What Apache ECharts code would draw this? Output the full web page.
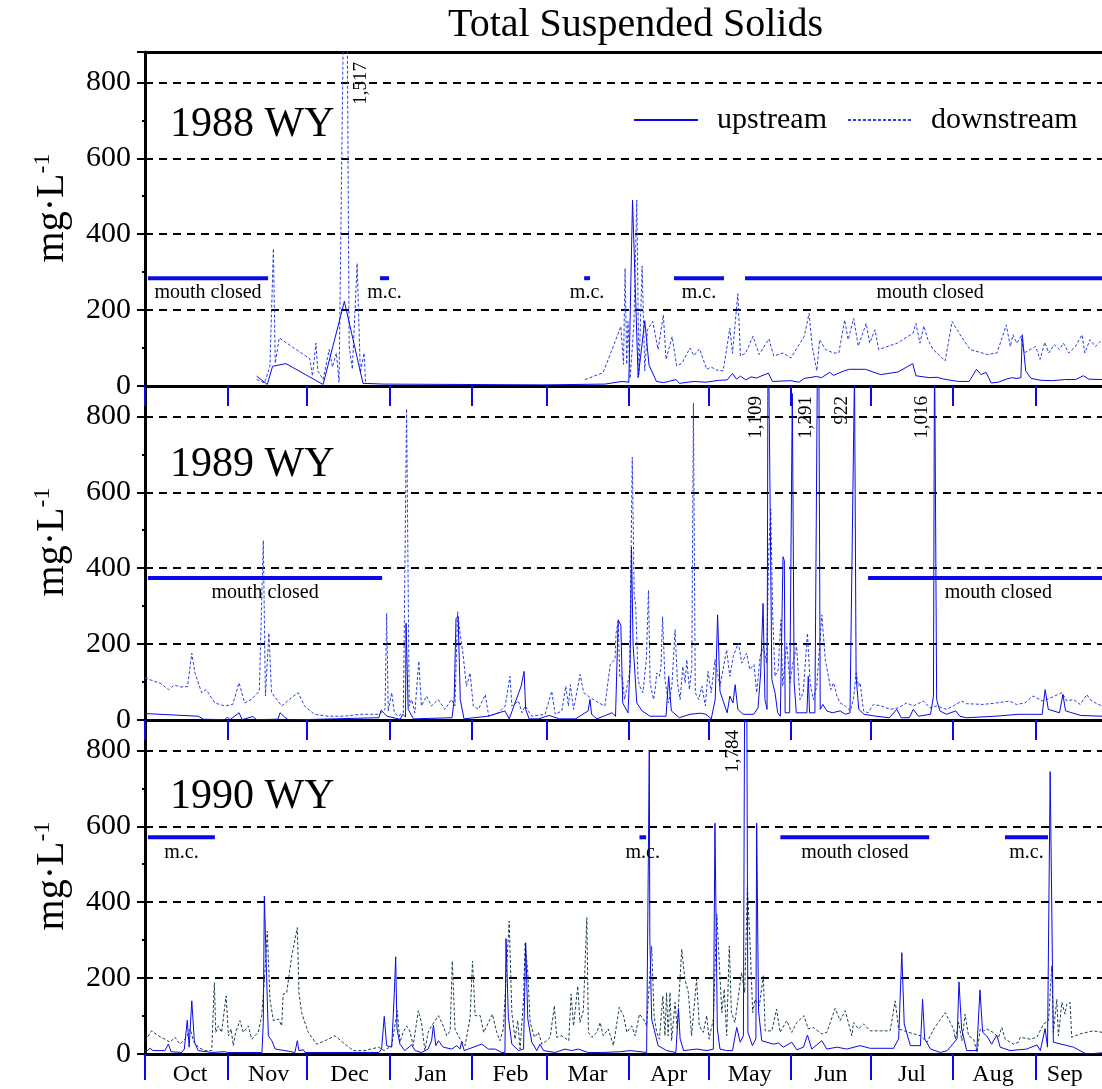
<!DOCTYPE html>
<html>
<head>
<meta charset="utf-8">
<script src="https://cdn.jsdelivr.net/npm/echarts@6/dist/echarts.min.js"></script>
<style>
  html, body { margin: 0; padding: 0; background: #fff; }
  #chart { width: 1102px; height: 1089px; }
</style>
</head>
<body>
<div id="chart"></div>
<script>
// Water-year day axis: day 0 = 1 October
const monthNames = ['Oct', 'Nov', 'Dec', 'Jan', 'Feb', 'Mar', 'Apr', 'May', 'Jun', 'Jul', 'Aug', 'Sep'];
const monthStartDays = [0, 31, 61, 92, 123, 151, 182, 212, 243, 273, 304, 335];
const monthLabelDays = [17, 46.5, 77, 107.5, 137.5, 166.5, 197, 227.5, 258, 288.5, 319, 346];
const yTicks = [0, 200, 400, 600, 800];
const panelNames = ['1988 WY', '1989 WY', '1990 WY'];

// Total suspended solids, mg/L, [day, value]
const up88 = [[42,26],[46,4],[48,52],[53,59],[67,4],[75,223],[82,7],[90,5],[120,4],[150,3],[173,5],[179.5,12],[182,10],[183.4,490],[185.5,22],[188,172],[189.6,55],[192.4,12],[195,9],[197,12],[199.8,17],[201,7],[206.5,12],[211,10],[216,15],[219,16],[221,33],[222.5,18],[224,26],[226,16],[228,24],[230,21],[234.5,34],[236,12],[243,14],[246,10],[248,20],[252.5,25],[254.5,22],[257.6,36],[259,28],[263,40],[265,44],[271,44],[276.7,30],[283.3,37],[288.8,59],[290,27],[295,22],[298,23],[300,19],[302.3,16],[306,12],[310,12],[312.8,44],[314.5,30],[316.4,36],[318.3,8],[321,10],[324,18],[326,22],[328,20],[329.5,22],[330,135],[331.3,40],[333.3,20],[337,15],[341.4,14],[346,17],[350,17],[353,27],[355,18],[360,17]];
const down88 = [[42,17],[45,8],[47,52],[48.3,362],[49,60],[50.5,127],[56,100],[62,72],[63,26],[64.3,113],[65,40],[67,17],[69.3,96],[70.5,50],[72,87],[73,10],[75.6,1517],[76.8,105],[78,44],[79.8,323],[81,35],[82.4,87],[83,8],[120,null],[165.5,17],[172.3,35],[175.7,96],[179,157],[180,57],[180.6,310],[181.2,57],[181.7,170],[182.5,20],[183.9,162],[185,490],[185.8,30],[187,316],[188,40],[189,148],[191,170],[193,96],[195,187],[196,70],[198.3,130],[200,53],[202,60],[205,100],[206.5,80],[208.6,98],[211.3,44],[213,50],[215,42],[217.5,40],[220,152],[221,86],[223,243],[224,79],[226,87],[228.7,131],[231,83],[234.7,124],[236.5,79],[240,87],[243,74],[248,131],[249.8,191],[251,104],[252.7,40],[253.8,122],[256,96],[259,87],[261,87],[263.2,174],[264.5,122],[266.6,178],[268.3,105],[271.3,165],[272.6,113],[274.6,148],[276,96],[283,113],[288.9,139],[290,165],[291.5,113],[293,158],[294.5,122],[296.5,96],[301,66],[303.6,170],[307,131],[310.4,96],[317,83],[320.5,87],[324,161],[325.5,104],[326.5,135],[328,113],[329.5,131],[330.7,87],[335,104],[336.7,70],[338.5,115],[340,87],[342,109],[344,96],[345.5,113],[347.5,87],[350,104],[352.5,135],[353.5,87],[355.5,122],[357.5,104],[360,122]];

const up89 = [[0,17],[20,10],[22,2],[30,1],[31,8],[32,1],[35.4,19],[36.5,1],[40.6,9],[42,1],[50,2],[50.8,19],[52.5,8],[54,0],[88,6],[88.8,26],[91,10],[96,2],[97,15],[98,8],[98.2,255],[99,28],[101,3],[115.5,6],[116.3,54],[117,268],[117.8,272],[118.6,54],[120,3],[129,10],[135.4,24],[137,3],[141.5,89],[142.6,128],[143.2,28],[144.5,3],[148,3],[152,12],[156,3],[162,3],[166.7,24],[167.4,54],[168,15],[170,3],[175.7,19],[177,10],[178,264],[179,250],[179.7,45],[181.7,19],[182.5,150],[183,455],[183.6,200],[185,45],[187,24],[190,10],[196,10],[197,115],[198,24],[201,6],[205,15],[209,18],[211,15],[213,3],[214.5,54],[215.4,277],[216.3,76],[217.3,54],[219,19],[220,63],[221.2,45],[222,93],[223,28],[225,15],[229,15],[230.6,32],[231.6,124],[232.5,307],[233.2,54],[234,28],[234.4,1109],[235.8,107],[237,72],[238,19],[239,10],[240,430],[240.5,420],[240.8,19],[242.5,19],[243.5,860],[244.2,98],[245,19],[249,19],[249.5,115],[250,19],[252,19],[253.3,1291],[254,28],[255,41],[256.5,24],[258.5,19],[261.5,24],[263.5,15],[265.2,19],[266.9,922],[267.5,115],[268.5,28],[270.5,15],[275,10],[280,6],[282.8,28],[284.5,6],[287.5,6],[289,28],[291,10],[295.5,15],[296.6,63],[297,1016],[297.8,54],[299,24],[301.5,15],[305,24],[306.5,10],[309,6],[320,10],[328.5,15],[333,15],[337.5,15],[338.6,80],[339.8,28],[344,19],[345.3,67],[346.3,24],[352,12],[360,10]];
const down89 = [[0,111],[3.5,102],[6,96],[8.8,80],[11,92],[13.5,87],[16,88],[17.6,176],[18.8,124],[21.3,72],[23,80],[26.3,45],[30,37],[33,41],[35.4,98],[37.5,45],[40,54],[43,76],[44.5,473],[45.3,63],[46.6,229],[47.6,72],[51.4,37],[55,58],[57.6,72],[60,37],[63.7,15],[68.8,10],[75,10],[81,15],[88,15],[90.3,28],[90.9,281],[91.5,24],[92.8,72],[93.8,19],[95.3,10],[97.2,19],[98.4,820],[99.4,37],[100.3,54],[101.5,19],[103,155],[104,37],[105.9,63],[107.8,37],[110.3,54],[112.8,28],[115.3,54],[116.6,37],[117.6,285],[118.5,228],[119.6,176],[120.9,89],[122.3,124],[123.5,37],[125.4,28],[128,67],[129.3,10],[133,19],[135.5,37],[137.3,115],[138,37],[140.5,50],[141.8,19],[143,37],[145.5,10],[150.5,15],[153,76],[154.3,15],[156.8,24],[158.3,89],[159.3,37],[160,93],[161.2,28],[163.7,120],[165,72],[167.5,59],[170.7,45],[173,37],[175,146],[176.8,160],[177.2,229],[178,260],[178.6,115],[179.5,115],[180.4,54],[182.3,124],[183.3,692],[184,334],[184.6,300],[185.5,107],[186.1,89],[187.3,72],[188.6,160],[189.4,342],[190,98],[191.3,54],[191.9,80],[192.5,124],[193.5,115],[194.1,141],[194.7,272],[195.6,107],[196.9,45],[198.2,89],[199.4,238],[200.3,98],[201.3,54],[202.3,141],[203.2,98],[203.8,159],[204.8,80],[205.7,141],[206.3,835],[207,72],[208.3,54],[209.5,89],[210.8,37],[211.8,128],[213,72],[214.4,159],[216.3,89],[218.8,185],[220,115],[221.3,168],[223.2,203],[224.5,150],[226.3,176],[227.5,133],[229.1,146],[230.1,72],[231.4,168],[232.6,194],[233.8,150],[234.7,455],[235.4,556],[236.1,280],[237,115],[238.2,133],[239.2,264],[239.9,89],[241.4,203],[242.6,98],[243.7,150],[245.1,194],[246.4,54],[247.6,72],[249.2,229],[250.2,98],[251.4,54],[252.7,89],[254.6,277],[255.9,159],[257.1,115],[258,80],[259,98],[260.3,63],[261.5,45],[263.4,37],[265.3,24],[266.5,54],[267.5,124],[268.4,89],[269,98],[270.3,24],[272,19],[274,41],[277,37],[280.3,28],[283.4,32],[286.5,45],[289,37],[292.8,50],[295.3,32],[297.8,37],[301.6,28],[304,37],[307.2,50],[309,43],[315.3,41],[320.3,45],[325.3,50],[327.8,41],[331,45],[334,63],[337.8,50],[340.9,59],[344.9,72],[346.8,50],[349.3,54],[351.8,41],[354.3,67],[355.5,54],[358,43],[360,37]];

const up90 = [[0,4],[1.9,15],[3,9],[7.5,9],[8.8,26],[9.8,6],[13.8,4],[14.8,13],[15.9,89],[16.6,18],[17.6,140],[18.6,31],[20,9],[25,4],[30,6],[31,4],[44,4],[44.5,83],[44.9,416],[45.7,214],[46.4,48],[47.7,35],[49,13],[52.6,9],[56.4,4],[57.3,35],[57.9,9],[59.6,11],[60.2,4],[88,4],[89,13],[90,99],[90.9,22],[92.8,18],[93.8,162],[94.3,256],[94.8,66],[95.9,26],[97.7,9],[100.3,24],[101.6,9],[104,4],[106.5,13],[107.8,35],[108.5,76],[109.4,22],[110.4,35],[112.2,18],[115.4,13],[117.3,22],[118.5,13],[119.1,32],[120.1,9],[121.6,13],[126.7,26],[129.2,13],[131.7,13],[134.2,4],[135.4,4],[135.8,304],[136.7,96],[138,26],[140.5,9],[142.4,13],[143.2,293],[144,92],[145.5,31],[147.4,9],[148.6,26],[149.9,9],[154.3,4],[158,13],[160.5,9],[163,13],[166.7,4],[171.7,4],[178.9,6],[182.5,9],[188.7,4],[189.7,801],[189.9,310],[190.6,92],[193,22],[196.2,9],[199.7,4],[200.7,120],[201.3,40],[202.6,9],[207.6,13],[211.4,9],[213.8,13],[214.4,608],[215.3,66],[216.3,13],[218.8,9],[221,9],[222.6,70],[223.9,31],[225.1,48],[226,1784],[226.8,57],[228.5,22],[229.8,40],[230.1,608],[230.8,114],[232,35],[233.9,31],[236.4,26],[238.3,29],[240.1,18],[243.3,31],[245.2,11],[247.7,18],[249.2,50],[250.8,13],[254.6,35],[256.5,13],[260.3,18],[264,13],[269,22],[272.8,15],[281.6,15],[283.5,40],[284.7,267],[285.6,79],[287.9,22],[291.7,22],[292.5,144],[293.3,40],[295.5,13],[299.2,4],[301.8,9],[305.5,40],[306.2,190],[307.2,66],[309.1,9],[312.9,9],[314.1,169],[315.1,57],[316.6,48],[318.5,26],[320.4,50],[321.7,18],[325.4,9],[331.7,13],[335.5,24],[336.8,9],[338.6,67],[339.5,18],[340.5,744],[341.7,31],[349.3,18],[353,4],[354.3,0],[360,3]];
const down90 = [[0,35],[2.5,61],[5,48],[7.5,39],[9.4,31],[11.3,44],[13.2,26],[15.7,44],[17,66],[18.2,35],[20.1,17],[22.6,9],[25.1,9],[26.1,188],[26.6,57],[27.6,74],[28.8,57],[30.5,153],[31.4,48],[32.4,66],[33.2,22],[34.1,57],[35.7,88],[37,57],[38.9,74],[40.1,39],[42.6,57],[43.9,101],[45.1,214],[46,324],[47,144],[48.3,88],[50.2,92],[51.4,74],[52,158],[53.3,162],[55.2,258],[57.3,333],[57.9,162],[58.9,109],[61.4,57],[64.6,26],[67.7,35],[71.5,48],[75.2,26],[78.4,9],[82.8,9],[87.8,18],[90,9],[92.8,22],[94.9,114],[95.9,31],[97.1,57],[98.4,74],[99.6,61],[100.9,22],[102.8,114],[104,83],[105.3,9],[106.5,57],[107.8,74],[110.4,101],[112.2,74],[113.5,48],[114.8,61],[115.6,245],[116.6,66],[118.5,39],[120.4,22],[122.3,96],[123.2,245],[124.2,101],[126.1,101],[127.4,57],[129.2,83],[130.7,105],[132.3,57],[133.5,35],[134.8,66],[135.4,144],[137,350],[138,109],[139.2,39],[140.2,88],[141.1,13],[142.4,144],[143,293],[144,214],[144.9,83],[146.5,44],[148,57],[149.3,26],[151.1,35],[152.4,44],[154,127],[154.9,44],[156.8,48],[159.4,35],[160.3,158],[161.2,74],[162.8,179],[163.6,83],[164.9,114],[166.2,359],[166.8,57],[168.1,44],[170,57],[171.2,83],[172.4,48],[174.3,66],[176.2,22],[178.4,123],[180,101],[181.3,57],[183.1,74],[184.4,48],[186,105],[187.5,92],[188.7,74],[190.6,284],[191.5,101],[192.5,57],[193.5,39],[194.8,153],[195.6,48],[196.2,162],[196.8,48],[197.5,162],[198.1,35],[199.4,136],[200.2,66],[201.9,276],[203.1,197],[204.4,162],[205.6,48],[207.5,197],[208.5,74],[210,57],[211.3,101],[212.2,39],[213.8,92],[215.1,368],[216.1,232],[217,109],[217.9,171],[218.8,48],[219.8,284],[220.6,109],[221.9,83],[224.4,214],[225.6,162],[226.6,442],[227.6,293],[228.6,109],[229.5,144],[231.1,127],[232.6,206],[233.3,61],[235.8,61],[237.6,118],[238.9,57],[241.4,88],[243.3,57],[245.2,83],[247.9,101],[249.5,66],[251.4,70],[254.6,53],[256.5,57],[259.6,120],[261.5,88],[263.4,114],[265.9,48],[266.5,83],[268.4,66],[270.3,79],[272.8,61],[276.6,61],[280.3,61],[282.2,140],[283.5,66],[285.6,61],[287.3,57],[291.7,48],[294.2,31],[296.7,66],[301,109],[304.2,66],[304.8,39],[306.1,83],[307.3,35],[308.5,105],[309.8,48],[311.7,39],[313,4],[314.2,66],[315.5,61],[316.7,66],[319,57],[321.1,44],[322.3,70],[323.6,39],[326.7,26],[328.6,31],[329.2,44],[333,39],[335.5,44],[338,79],[339.9,88],[341.1,232],[341.7,57],[343,144],[343.6,48],[344.9,136],[346.1,105],[346.7,131],[348,136],[348.6,44],[351.8,53],[356.8,61],[360,57]];

// Periods with the river mouth closed: [start day, end day, level, text]
const closed88 = [[1.1,46.3,284,'mouth closed'],[88.4,91.8,284,'m.c.'],[165.2,167.4,284,'m.c.'],[199,217.8,284,'m.c.'],[225.7,365,284,'mouth closed']];
const closed89 = [[1.1,89.2,374,'mouth closed'],[272,370,374,'mouth closed']];
const closed90 = [[1.1,26.3,571,'m.c.'],[186,188.5,571,'m.c.'],[239,295,571,'mouth closed'],[323.5,339.7,571,'m.c.']];

const Y_MAX = 880;
const X_MAX = 360;
const SERIF = '"Liberation Serif", "Times New Roman", serif';
const BLUE = '#0a0ae8';

const panels = [
  { up: up88, down: down88, closed: closed88, downColor: '#2a3fe0', labelSide: 1 },
  { up: up89, down: down89, closed: closed89, downColor: '#2a3fe0', labelSide: -1 },
  { up: up90, down: down90, closed: closed90, downColor: '#1d4050', labelSide: -1 }
];

const GRID_LEFT = 145, GRID_TOP = 52, GRID_H = 334;

const grids = [], xAxes = [], yAxes = [], series = [];

panels.forEach((p, i) => {
  grids.push({ left: GRID_LEFT, right: 0, top: GRID_TOP + GRID_H * i, height: GRID_H });
  xAxes.push({
    gridIndex: i, type: 'value', min: 0, max: X_MAX,
    axisLine: { onZero: false, lineStyle: { color: '#000', width: 3 } },
    axisTick: { show: true, customValues: monthStartDays, length: i === 2 ? 26 : 20,
                lineStyle: { color: BLUE, width: 2 } },
    axisLabel: {
      show: i === 2, customValues: monthLabelDays, margin: 9,
      fontFamily: SERIF, fontSize: 24, color: '#000',
      formatter: v => monthNames[monthLabelDays.indexOf(v)] || ''
    },
    splitLine: { show: false }
  });
  yAxes.push({
    gridIndex: i, type: 'value', min: 0, max: Y_MAX, interval: 200,
    axisLine: { show: true, lineStyle: { color: '#000', width: 3 } },
    axisTick: { show: true, length: 8, lineStyle: { color: '#000', width: 2 } },
    minorTick: { show: true, splitNumber: 2, length: 3, lineStyle: { color: '#000', width: 2 } },
    axisLabel: { fontFamily: SERIF, fontSize: 30, color: '#000', margin: 14, showMaxLabel: false,
                 formatter: v => yTicks.indexOf(v) >= 0 ? String(v) : '' },
    splitLine: { show: true, lineStyle: { color: '#000', type: [8, 6], width: 2 } },
    name: '{a|mg·L}{b|-1}', nameLocation: 'middle', nameRotate: 90, nameGap: 72,
    nameTextStyle: {
      rich: {
        a: { fontFamily: SERIF, fontSize: 40, color: '#000', padding: [0, 0, 0, 22] },
        b: { fontFamily: SERIF, fontSize: 24, color: '#000', padding: [0, 0, 18, 0] }
      }
    }
  });

  series.push({
    name: 'downstream', type: 'line', xAxisIndex: i, yAxisIndex: i,
    data: p.down, symbol: 'none', connectNulls: false,
    lineStyle: { color: p.downColor, width: 1, type: [3, 2] },
    itemStyle: { color: p.downColor }, z: 3
  });
  series.push({
    name: 'upstream', type: 'line', xAxisIndex: i, yAxisIndex: i,
    data: p.up, symbol: 'none',
    lineStyle: { color: BLUE, width: 1 },
    itemStyle: { color: BLUE }, z: 4
  });

  // mouth-closed bars with their captions
  const closed = p.closed;
  series.push({
    type: 'custom', xAxisIndex: i, yAxisIndex: i, clip: true, z: 5,
    data: closed.map(c => [c[0], c[1], c[2]]),
    renderItem: (params, api) => {
      const a = api.coord([api.value(0), api.value(2)]);
      const b = api.coord([api.value(1), api.value(2)]);
      return {
        type: 'group',
        children: [
          { type: 'rect', shape: { x: a[0], y: a[1] - 2, width: b[0] - a[0], height: 4 },
            style: { fill: BLUE } },
          { type: 'text', x: (a[0] + b[0]) / 2, y: a[1] + 5,
            style: { text: closed[params.dataIndex][3], font: '20px ' + SERIF, fill: '#000',
                     align: 'center', verticalAlign: 'top' } }
        ]
      };
    }
  });

  // values beyond the axis top are written beside their spikes
  const peaks = p.up.concat(p.down).filter(d => d[1] != null && d[1] > Y_MAX);
  const side = p.labelSide;
  series.push({
    type: 'custom', xAxisIndex: i, yAxisIndex: i, clip: false, z: 6,
    data: peaks,
    renderItem: (params, api) => {
      const x = api.coord([api.value(0), 0])[0];
      const top = params.coordSys.y;
      return {
        type: 'text', x: side > 0 ? x + 6 : x - 3, y: top + 10, rotation: Math.PI / 2,
        style: { text: api.value(1).toLocaleString('en-US'), font: '19px ' + SERIF, fill: '#000',
                 align: 'right', verticalAlign: side > 0 ? 'top' : 'bottom' }
      };
    }
  });
});

// top frame line of the first panel
xAxes.push({
  gridIndex: 0, type: 'value', min: 0, max: X_MAX, position: 'top',
  axisLine: { onZero: false, lineStyle: { color: '#000', width: 3 } },
  axisTick: { show: false }, axisLabel: { show: false }, splitLine: { show: false }
});

const titleStyle = { fontFamily: SERIF, fontWeight: 'normal', color: '#000' };
const option = {
  animation: false,
  backgroundColor: '#fff',
  title: [
    { text: 'Total Suspended Solids', left: 443, top: 0, textStyle: Object.assign({ fontSize: 40 }, titleStyle) },
    { text: panelNames[0], left: 165, top: 99, textStyle: Object.assign({ fontSize: 42 }, titleStyle) },
    { text: panelNames[1], left: 165, top: 439, textStyle: Object.assign({ fontSize: 42 }, titleStyle) },
    { text: panelNames[2], left: 165, top: 771, textStyle: Object.assign({ fontSize: 42 }, titleStyle) }
  ],
  legend: {
    data: ['upstream', 'downstream'], left: 628, top: 100,
    itemWidth: 64, itemHeight: 20, itemGap: 20,
    itemStyle: { opacity: 0, borderWidth: 0 },
    textStyle: { fontFamily: SERIF, fontSize: 30, color: '#000', padding: [0, 0, 0, 14] }
  },
  grid: grids,
  xAxis: xAxes,
  yAxis: yAxes,
  series: series
};

const chart = echarts.init(document.getElementById('chart'), null, { renderer: 'canvas' });
chart.setOption(option);
</script>
</body>
</html>
